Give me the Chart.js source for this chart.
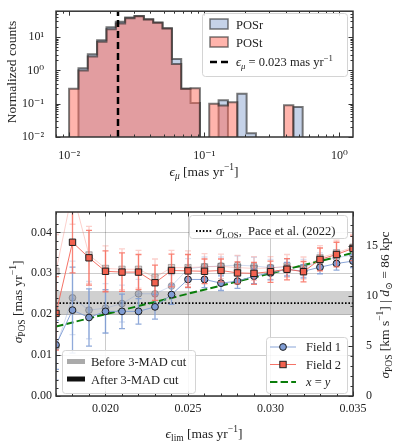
<!DOCTYPE html>
<html>
<head>
<meta charset="utf-8">
<script src="https://cdn.jsdelivr.net/npm/chart.js@4"></script>
<style>
  html, body { margin: 0; padding: 0; background: #fff; }
  canvas { position: absolute; left: 0; }
  #top { top: 0; }
  #bot { top: 190px; }
</style>
</head>
<body>
<canvas id="top" width="397" height="190"></canvas>
<canvas id="bot" width="397" height="256"></canvas>
<script>
// ---- top panel: histogram of proper-motion errors ----
const binEdges = [0.0100, 0.01173, 0.01375, 0.01612, 0.0189, 0.02216, 0.02598, 0.03047, 0.03572,
  0.04189, 0.04911, 0.05759, 0.06752, 0.07917, 0.09283, 0.10884, 0.12762, 0.14964, 0.17545,
  0.20572, 0.24121, 0.28282, 0.33162, 0.38882, 0.4559, 0.53455]
const countsPOSr = [0, 1.17, 3.06, 8.1, 19.7, 29, 38.7, 43.4, 34.5, 27.6, 18.5, 2.2, 0.28, 0.105,
  0, 0, 0.126, 0, 0.2, 0.013, 0, 0, 0, 0, 0.08]
const countsPOSt = [0.28, 1.0, 2.6, 7.2, 17.3, 25.8, 37, 42, 34, 27, 18, 1.56, 0.28, 0.29,
  0, 0.10, 0.088, 0.11, 0, 0, 0, 0, 0, 0.09, 0]
const epsMuCut = 0.023

// ---- bottom panel: dispersion vs error limit ----
const epsLim = [0.017, 0.018, 0.019, 0.020, 0.021, 0.022, 0.023, 0.024, 0.025, 0.026,
  0.027, 0.028, 0.029, 0.030, 0.031, 0.032, 0.033, 0.034, 0.035]
const field1 = [0.0125, 0.0210, 0.0192, 0.0207, 0.0207, 0.0207, 0.0218, 0.0248, 0.0285, 0.0285,
  0.0276, 0.0281, 0.0293, 0.0301, 0.0310, 0.0305, 0.0315, 0.0324, 0.0330]
const field1Err = [0.006, 0.0105, 0.007, 0.0053, 0.0042, 0.0031, 0.003, 0.0024, 0.002, 0.002,
  0.0018, 0.0018, 0.0018, 0.0017, 0.0017, 0.0016, 0.0016, 0.0016, 0.0016]
const field2 = [0.0202, 0.0376, 0.0338, 0.0305, 0.0303, 0.0303, 0.0277, 0.0307, 0.0306, 0.0305,
  0.0307, 0.0301, 0.0300, 0.0304, 0.0310, 0.0304, 0.0334, 0.0346, 0.0361]
const field2Err = [0.009, 0.0075, 0.0067, 0.005, 0.0047, 0.0043, 0.0043, 0.004, 0.004, 0.003,
  0.0028, 0.0027, 0.0027, 0.0026, 0.0026, 0.0025, 0.0028, 0.003, 0.003]
const field1Before = [0.012, 0.024, 0.021, 0.0215, 0.0226, 0.0250, 0.0250, 0.0269, 0.0311, 0.0316,
  0.0318, 0.0320, 0.0318, 0.0314, 0.0315, 0.0314, 0.0330, 0.0338, 0.0345]
const field1BeforeErr = [0.008, 0.009, 0.007, 0.006, 0.0045, 0.0035, 0.003, 0.0027, 0.0025, 0.0024,
  0.0022, 0.0022, 0.0021, 0.002, 0.002, 0.002, 0.002, 0.0019, 0.0019]
const field2Before = [0.0305, 0.050, 0.0345, 0.0312, 0.0310, 0.0310, 0.0290, 0.0314, 0.0314, 0.0316,
  0.0317, 0.0314, 0.0312, 0.0313, 0.0318, 0.0313, 0.0338, 0.0350, 0.0364]
const field2BeforeErr = [0.009, 0.008, 0.007, 0.0055, 0.005, 0.0046, 0.0045, 0.0042, 0.0041, 0.0032,
  0.003, 0.003, 0.0029, 0.0028, 0.0028, 0.0027, 0.003, 0.0031, 0.0031]
const sigmaLos = 0.0227
const sigmaLosLo = 0.0198
const sigmaLosHi = 0.0257
const kmsPerMas = 4.74 * 86

const SERIF = '"Liberation Serif", "DejaVu Serif", serif'
Chart.defaults.font.family = SERIF
Chart.defaults.font.size = 12
Chart.defaults.color = '#222'
Chart.defaults.animation = false

const SUP = { '-': '⁻', 0: '⁰', 1: '¹', 2: '²', 3: '³', 4: '⁴', 5: '⁵', 6: '⁶', 7: '⁷', 8: '⁸', 9: '⁹' }
const sup = (n) => String(n).split('').map((c) => SUP[c]).join('')
const isStep = (v, step) => Math.abs(v / step - Math.round(v / step)) < 1e-6

function powLabel (v) {
  const e = Math.log10(v)
  const r = Math.round(e)
  return Math.abs(e - r) < 1e-6 ? '10' + sup(r) : ''
}

function validTick (scale, v) {
  if (scale.type === 'logarithmic') {
    const m = v / Math.pow(10, Math.floor(Math.log10(v) + 1e-9))
    return Math.abs(m - Math.round(m)) < 1e-6
  }
  return isStep(v, scale.options.ticks.stepSize)
}

// text with italic / sub / superscript pieces
function rich (ctx, segs, x, y, size, opts = {}) {
  ctx.save()
  ctx.translate(x, y)
  if (opts.rot) ctx.rotate(opts.rot)
  ctx.fillStyle = '#222'
  ctx.textBaseline = 'alphabetic'
  ctx.textAlign = 'left'
  const parts = segs.map(([t, f = '']) => {
    const small = f.includes('sub') || f.includes('sup')
    const font = `${f.includes('it') ? 'italic ' : ''}${small ? size * 0.7 : size}px ${SERIF}`
    ctx.font = font
    const dy = f.includes('sub') ? size * 0.22 : f.includes('sup') ? -size * 0.42 : 0
    return { t, font, dy, w: ctx.measureText(t).width }
  })
  const total = parts.reduce((s, p) => s + p.w, 0)
  let cx = opts.align === 'left' ? 0 : -total / 2
  parts.forEach((p) => {
    ctx.font = p.font
    ctx.fillText(p.t, cx, p.dy)
    cx += p.w
  })
  ctx.restore()
}

function legendBox (ctx, x, y, w, h) {
  ctx.save()
  ctx.fillStyle = 'rgba(255,255,255,0.85)'
  ctx.strokeStyle = '#d4d4d4'
  ctx.lineWidth = 1
  ctx.beginPath()
  if (ctx.roundRect) ctx.roundRect(x + 0.5, y + 0.5, w, h, 3)
  else ctx.rect(x + 0.5, y + 0.5, w, h)
  ctx.fill()
  ctx.stroke()
  ctx.restore()
}

function sampleLine (ctx, x0, x1, y, color, width, dash) {
  ctx.save()
  ctx.strokeStyle = color
  ctx.lineWidth = width
  ctx.setLineDash(dash || [])
  ctx.beginPath()
  ctx.moveTo(x0, y)
  ctx.lineTo(x1, y)
  ctx.stroke()
  ctx.restore()
}

function drawFrame (chart) {
  const { ctx, chartArea: a, scales } = chart
  const hasRight = Object.values(scales).some((s) => s.axis === 'y' && s.position === 'right')
  ctx.save()
  ctx.strokeStyle = '#333'
  ctx.lineWidth = 1
  Object.values(scales).forEach((s) => {
    s.ticks.forEach((t) => {
      if (!validTick(s, t.value)) return
      const len = t.label !== '' ? 4.5 : 2.5
      const p = Math.round(s.getPixelForValue(t.value)) + 0.5
      ctx.beginPath()
      if (s.axis === 'x') {
        ctx.moveTo(p, a.bottom); ctx.lineTo(p, a.bottom - len)
        ctx.moveTo(p, a.top); ctx.lineTo(p, a.top + len)
      } else if (s.position === 'left') {
        ctx.moveTo(a.left, p); ctx.lineTo(a.left + len, p)
        if (!hasRight) { ctx.moveTo(a.right, p); ctx.lineTo(a.right - len, p) }
      } else {
        ctx.moveTo(a.right, p); ctx.lineTo(a.right - len, p)
      }
      ctx.stroke()
    })
  })
  ctx.lineWidth = 1.5
  ctx.strokeRect(a.left, a.top, a.width, a.height)
  ctx.restore()
}

const errorBars = {
  id: 'errorBars',
  beforeDatasetDraw (chart, args) {
    const ds = chart.data.datasets[args.index]
    if (!ds.errs) return
    const { ctx, chartArea: a } = chart
    const sx = chart.scales.x
    const sy = chart.scales.y
    ctx.save()
    ctx.beginPath()
    ctx.rect(a.left, a.top, a.width, a.height)
    ctx.clip()
    ctx.strokeStyle = ds.errColor
    ctx.lineWidth = 1.3
    ds.data.forEach((p, i) => {
      const e = ds.errs[i]
      const px = sx.getPixelForValue(p.x)
      const y0 = sy.getPixelForValue(p.y - e)
      const y1 = sy.getPixelForValue(p.y + e)
      ctx.beginPath()
      ctx.moveTo(px, y0); ctx.lineTo(px, y1)
      ctx.moveTo(px - 3, y0); ctx.lineTo(px + 3, y0)
      ctx.moveTo(px - 3, y1); ctx.lineTo(px + 3, y1)
      ctx.stroke()
    })
    ctx.restore()
  }
}

// histogram outline as a step line
const FLOOR = 1e-4
function stepData (edges, counts) {
  const pts = [{ x: edges[0], y: FLOOR }]
  counts.forEach((c, i) => pts.push({ x: edges[i], y: c > 0 ? c : FLOOR }))
  pts.push({ x: edges[edges.length - 1], y: FLOOR })
  return pts
}

const POSR_FILL = 'rgba(140,165,210,0.5)'
const POST_FILL = 'rgba(255,105,89,0.5)'
const EDGE = 'rgba(40,40,40,0.62)'
const topY = { min: 0.01, max: 60 }

new Chart(document.getElementById('top'), { // eslint-disable-line
  type: 'line',
  data: {
    datasets: [
      { label: 'POSr', data: stepData(binEdges, countsPOSr), stepped: true, fill: 'start', backgroundColor: POSR_FILL, borderColor: EDGE, borderWidth: 2, pointRadius: 0, order: 2 },
      { label: 'POSt', data: stepData(binEdges, countsPOSt), stepped: true, fill: 'start', backgroundColor: POST_FILL, borderColor: EDGE, borderWidth: 2, pointRadius: 0, order: 1 },
      { label: 'cut', data: [{ x: epsMuCut, y: topY.min }, { x: epsMuCut, y: topY.max }], borderColor: '#000', borderWidth: 2.5, borderDash: [7, 4], pointRadius: 0, order: 0 }
    ]
  },
  options: {
    responsive: false,
    devicePixelRatio: 1,
    layout: { padding: { top: 7, right: 44, left: 0, bottom: 0 } },
    plugins: { legend: { display: false }, tooltip: { enabled: false } },
    scales: {
      x: {
        type: 'logarithmic', min: 0.008, max: 1.26,
        grid: { display: false }, border: { display: false },
        ticks: { autoSkip: false, maxRotation: 0, padding: 4, callback: powLabel },
        afterFit: (s) => { s.height = 53 }
      },
      y: {
        type: 'logarithmic', min: topY.min, max: topY.max,
        grid: { display: false }, border: { display: false },
        ticks: { autoSkip: false, padding: 4, callback: powLabel },
        afterFit: (s) => { s.width = 56 }
      }
    }
  },
  plugins: [{
    id: 'decorTop',
    afterDraw (chart) {
      const ctx = chart.ctx
      drawFrame(chart)
      rich(ctx, [['ϵ', 'it'], ['μ', 'itsub'], [' [mas yr'], ['−1', 'sup'], [']']], 204, 176, 13.5)
      rich(ctx, [['Normalized counts']], 16, 72, 13.5, { rot: -Math.PI / 2 })
      legendBox(ctx, 202, 13, 145, 63)
      ctx.save()
      ctx.lineWidth = 1.5
      ctx.strokeStyle = EDGE
      ctx.fillStyle = POSR_FILL
      ctx.fillRect(210, 19, 18, 10); ctx.strokeRect(210, 19, 18, 10)
      ctx.fillStyle = POST_FILL
      ctx.fillRect(210, 37, 18, 10); ctx.strokeRect(210, 37, 18, 10)
      ctx.restore()
      sampleLine(ctx, 210, 229, 62, '#000', 2.5, [7, 4])
      rich(ctx, [['POSr']], 236, 28.5, 12.5, { align: 'left' })
      rich(ctx, [['POSt']], 236, 46.5, 12.5, { align: 'left' })
      rich(ctx, [['ϵ', 'it'], ['μ', 'itsub'], [' = 0.023 mas yr'], ['−1', 'sup']], 236, 66, 12.5, { align: 'left' })
    }
  }]
})

// ---- bottom chart ----
const xMin = 0.017
const xMax = 0.035
const yMax = 0.045
const pts = (ys) => epsLim.map((x, i) => ({ x, y: ys[i] }))
const hline = (y) => [{ x: xMin, y }, { x: xMax, y }]

const F1_LINE = 'rgba(125,155,212,0.9)'
const F1_FILL = '#7f9cd4'
const F2_LINE = 'rgba(244,100,86,0.9)'
const F2_FILL = '#f2624f'

new Chart(document.getElementById('bot'), { // eslint-disable-line
  type: 'line',
  data: {
    datasets: [
      { label: 'band hi', data: hline(sigmaLosHi), fill: '+1', backgroundColor: 'rgba(150,150,150,0.45)', borderWidth: 0, pointRadius: 0, order: 20 },
      { label: 'band lo', data: hline(sigmaLosLo), fill: false, borderWidth: 0, pointRadius: 0, order: 19 },
      { label: 'sigma LOS', data: hline(sigmaLos), borderColor: '#000', borderWidth: 1.8, borderDash: [1.6, 1.8], pointRadius: 0, order: 10 },
      {
        label: 'Field 1 before', data: pts(field1Before), errs: field1BeforeErr, errColor: 'rgba(125,155,212,0.3)',
        borderColor: 'rgba(125,155,212,0.35)', borderWidth: 1, pointStyle: 'circle', pointRadius: 3.4,
        pointBackgroundColor: 'rgba(110,120,150,0.35)', pointBorderColor: 'rgba(30,30,30,0.3)', pointBorderWidth: 1, order: 9
      },
      {
        label: 'Field 2 before', data: pts(field2Before), errs: field2BeforeErr, errColor: 'rgba(244,100,86,0.3)',
        borderColor: 'rgba(244,100,86,0.3)', borderWidth: 1, pointStyle: 'rect', pointRadius: 4.5,
        pointBackgroundColor: 'rgba(150,120,120,0.35)', pointBorderColor: 'rgba(30,30,30,0.3)', pointBorderWidth: 1, order: 8
      },
      { label: 'x = y', data: [{ x: xMin, y: xMin }, { x: xMax, y: xMax }], borderColor: '#0a7d0a', borderWidth: 2, borderDash: [7.4, 3.2], pointRadius: 0, order: 3 },
      {
        label: 'Field 1', data: pts(field1), errs: field1Err, errColor: 'rgba(125,155,212,0.85)',
        borderColor: F1_LINE, borderWidth: 1, pointStyle: 'circle', pointRadius: 3.4,
        pointBackgroundColor: F1_FILL, pointBorderColor: '#1e1e1e', pointBorderWidth: 1, order: 2
      },
      {
        label: 'Field 2', data: pts(field2), errs: field2Err, errColor: 'rgba(248,110,95,0.85)',
        borderColor: F2_LINE, borderWidth: 1, pointStyle: 'rect', pointRadius: 4.5,
        pointBackgroundColor: F2_FILL, pointBorderColor: '#1e1e1e', pointBorderWidth: 1, order: 1
      }
    ]
  },
  options: {
    responsive: false,
    devicePixelRatio: 1,
    layout: { padding: { top: 22, right: 0, left: 0, bottom: 0 } },
    plugins: { legend: { display: false }, tooltip: { enabled: false } },
    scales: {
      x: {
        type: 'linear', min: xMin, max: xMax,
        grid: { drawTicks: false, color: (c) => (c.tick && isStep(c.tick.value, 0.005) ? 'rgba(0,0,0,0.2)' : 'transparent') },
        border: { display: false },
        ticks: { stepSize: 0.001, autoSkip: false, maxRotation: 0, padding: 6, callback: (v) => (isStep(v, 0.005) ? v.toFixed(3) : '') },
        afterFit: (s) => { s.height = 50 }
      },
      y: {
        type: 'linear', position: 'left', min: 0, max: yMax,
        grid: { drawTicks: false, color: (c) => (c.tick && isStep(c.tick.value, 0.01) ? 'rgba(0,0,0,0.2)' : 'transparent') },
        border: { display: false },
        ticks: { stepSize: 0.002, autoSkip: false, padding: 4, callback: (v) => (isStep(v, 0.01) ? v.toFixed(2) : '') },
        afterFit: (s) => { s.width = 56 }
      },
      y2: {
        type: 'linear', position: 'right', min: 0, max: yMax * kmsPerMas,
        grid: { display: false }, border: { display: false },
        ticks: { stepSize: 1, autoSkip: false, padding: 5, callback: (v) => (isStep(v, 5) ? String(Math.round(v)) : '') },
        afterFit: (s) => { s.width = 44 }
      }
    }
  },
  plugins: [errorBars, {
    id: 'decorBottom',
    afterDraw (chart) {
      const ctx = chart.ctx
      drawFrame(chart)
      rich(ctx, [['ϵ', 'it'], ['lim', 'sub'], [' [mas yr'], ['−1', 'sup'], [']']], 204, 248, 13.5)
      rich(ctx, [['σ', 'it'], ['POS', 'sub'], [' [mas yr'], ['−1', 'sup'], [']']], 22, 112, 13.5, { rot: -Math.PI / 2 })
      rich(ctx, [['σ', 'it'], ['POS', 'sub'], [' [km s'], ['−1', 'sup'], ['] | '], ['d', 'it'], ['⊙', 'sub'], [' = 86 kpc']], 389, 115, 13.5, { rot: -Math.PI / 2 })

      // sigma_LOS legend
      legendBox(ctx, 189, 25, 158, 23)
      sampleLine(ctx, 196, 212, 41, '#000', 1.8, [1.6, 1.8])
      rich(ctx, [['σ', 'it'], ['LOS', 'sub'], [',  Pace et al. (2022)']], 216, 45, 12.5, { align: 'left' })

      // field legend
      legendBox(ctx, 266, 147, 81, 56)
      sampleLine(ctx, 270, 296, 157, F1_LINE, 1)
      ctx.save()
      ctx.lineWidth = 1
      ctx.strokeStyle = '#1e1e1e'
      ctx.fillStyle = F1_FILL
      ctx.beginPath(); ctx.arc(283, 157, 3.4, 0, Math.PI * 2); ctx.fill(); ctx.stroke()
      ctx.restore()
      sampleLine(ctx, 270, 296, 174.5, F2_LINE, 1)
      ctx.save()
      ctx.lineWidth = 1
      ctx.strokeStyle = '#1e1e1e'
      ctx.fillStyle = F2_FILL
      ctx.fillRect(279.8, 171.3, 6.4, 6.4); ctx.strokeRect(279.8, 171.3, 6.4, 6.4)
      ctx.restore()
      sampleLine(ctx, 270, 296, 192, '#0a7d0a', 2, [7.4, 3.2])
      rich(ctx, [['Field 1']], 306, 161, 12.5, { align: 'left' })
      rich(ctx, [['Field 2']], 306, 178.5, 12.5, { align: 'left' })
      rich(ctx, [['x', 'it'], [' = '], ['y', 'it']], 306, 196, 12.5, { align: 'left' })

      // cut legend
      legendBox(ctx, 62, 160, 133, 43)
      sampleLine(ctx, 67, 85, 171.5, '#aaaaaa', 5)
      sampleLine(ctx, 67, 85, 189, '#111', 5)
      rich(ctx, [['Before 3-MAD cut']], 91, 176, 12.5, { align: 'left' })
      rich(ctx, [['After 3-MAD cut']], 91, 193.5, 12.5, { align: 'left' })
    }
  }]
})
</script>
</body>
</html>
